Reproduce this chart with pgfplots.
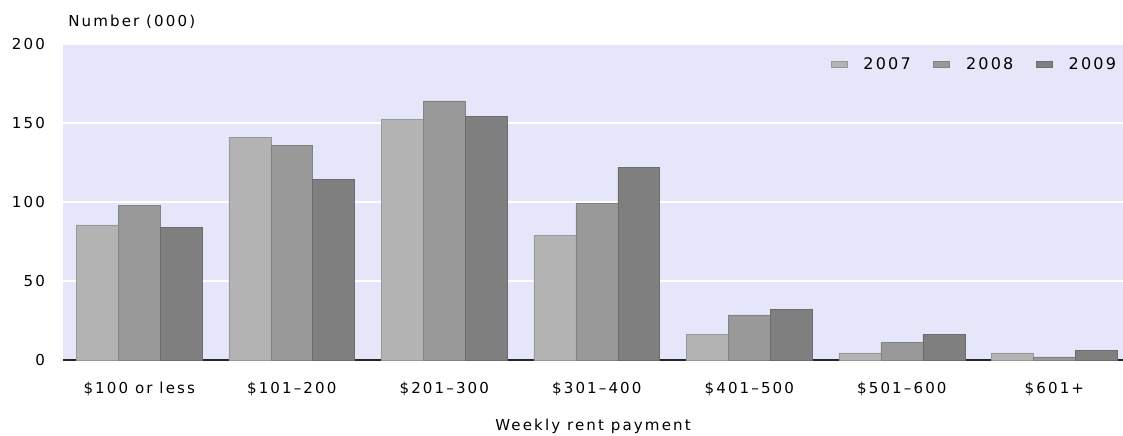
\documentclass[border=0pt]{standalone}
\usepackage{pgfplots}
\pgfplotsset{compat=1.18}
\usepackage{fontspec}
\setmainfont{DejaVu Sans}[LetterSpace=14]
\definecolor{bgl}{HTML}{E6E6FA}
\definecolor{cA}{HTML}{B3B3B3}
\definecolor{cB}{HTML}{999999}
\definecolor{cC}{HTML}{7F7F7F}
\begin{document}
\begin{tikzpicture}[font=\fontsize{11.3}{13}\selectfont]
\path[use as bounding box] (-47.25pt,-56.25pt) rectangle (795pt,270pt);
\begin{axis}[
    at={(0,0)}, anchor=south west,
    scale only axis, width=795pt, height=237pt,
    ybar=0pt, bar width=0.275,
    xmin=-0.5, xmax=6.45, ymin=0, ymax=200,
    axis background/.style={fill=bgl},
    axis line style={draw=none},
    xtick=data,
    xticklabels={\$100 or less,\$101--200,\$201--300,\$301--400,\$401--500,\$501--600,\$601+},
    xtick style={draw=none}, ytick style={draw=none},
    ytick={0,50,...,200},
    ymajorgrids, grid style={white, line width=1.2pt},
    extra y ticks={0}, extra y tick labels={},
    extra y tick style={grid style={black!85, line width=1.5pt}},
    /pgf/number format/assume math mode=true,
    yticklabel style={xshift=-10pt},
    xticklabel style={yshift=-9pt},
    xlabel={Weekly rent payment},
    xlabel style={yshift=-10pt},
    legend style={draw=none, fill=none, at={(1.0,0.975)}, anchor=north east,
        font=\fontsize{12}{14}\selectfont,
        legend columns=3,
        /tikz/every odd column/.append style={column sep=10pt},
        /tikz/every even column/.append style={column sep=15pt}},
    legend image code/.code={\fill[#1] (0pt,-2.25pt) rectangle (12pt,2.25pt);},
    clip=true,
]
\addplot[fill=cA, draw=cA!85!black, line width=0.4pt] coordinates {(0,85.5) (1,141) (2,152.5) (3,79) (4,16) (5,4.5) (6,4.5)};
\addplot[fill=cB, draw=cB!85!black, line width=0.4pt] coordinates {(0,98) (1,136) (2,164) (3,99) (4,28.5) (5,11) (6,2)};
\addplot[fill=cC, draw=cC!85!black, line width=0.4pt] coordinates {(0,84) (1,114.5) (2,154) (3,122) (4,32) (5,16) (6,6)};
\legend{2007,2008,2009}
\end{axis}
\node[anchor=west, inner sep=0pt] at (3.75pt,253.5pt) {Number (000)};
\end{tikzpicture}
\end{document}
